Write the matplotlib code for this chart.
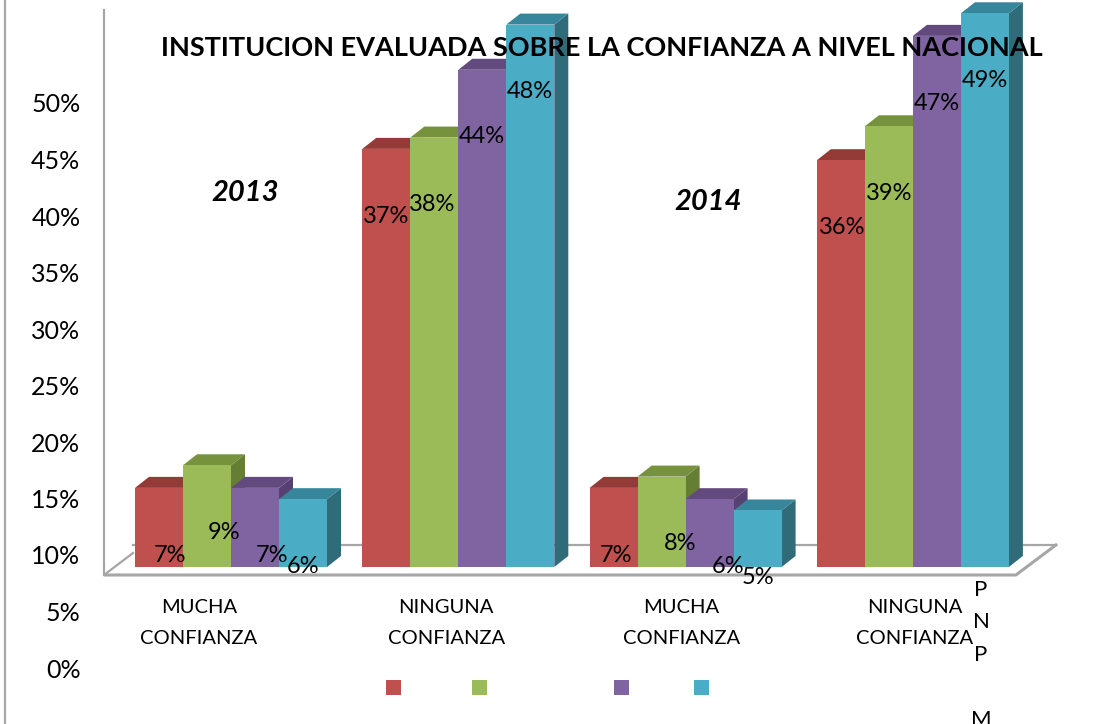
"""
3D-style grouped bar chart: confidence in the evaluated institution, 2013 vs 2014.
Mimics the original spreadsheet chart including its shifted value axis.
"""

import matplotlib
matplotlib.use("Agg")
import matplotlib.pyplot as plt
from matplotlib.lines import Line2D
from matplotlib.patches import Polygon, Rectangle

# ---------------------------------------------------------------------------
# Data
# ---------------------------------------------------------------------------

CATEGORIES = ["MUCHA\nCONFIANZA", "NINGUNA\nCONFIANZA", "MUCHA\nCONFIANZA", "NINGUNA\nCONFIANZA"]
YEARS = ["2013", "2014"]
RED_VALUES = [7, 37, 7, 36]
GREEN_VALUES = [9, 38, 8, 39]
PURPLE_VALUES = [7, 44, 6, 47]
CYAN_VALUES = [6, 48, 5, 49]
Y_TICKS = [0, 5, 10, 15, 20, 25, 30, 35, 40, 45, 50]
TITLE = "INSTITUCION EVALUADA SOBRE LA CONFIANZA A NIVEL NACIONAL"

# ---------------------------------------------------------------------------
# Style
# ---------------------------------------------------------------------------

FACE = ["#C0504D", "#9BBB59", "#8064A2", "#4BACC6"]
TOP = ["#943a37", "#76923C", "#624a7e", "#37869b"]
SIDE = ["#86373a", "#667d34", "#574172", "#306b7a"]
GRAY = "#a6a6a6"
FONT = ["Lato", "DejaVu Sans"]

plt.rcParams["font.family"] = FONT

W, H, DPI = 1104, 724, 100
PX_PER_UNIT = 11.3          # pixels per percentage point on the value axis
ZERO_PX = 668               # pixel row of the "0%" tick
BASE = 8.94                 # bars stand on the floor, well above 0%
BAR_W = 48
GROUP_X0 = 135
GROUP_STEP = 227.3
DEPTH_X = 14
DEPTH_Y = 11 / PX_PER_UNIT
LABEL_LIFT = 3.0
LABEL_NUDGE = [[11, 17, 17, 0], [0, -2, 0, 0], [2, 19, 18, 0], [1, 0, 0, 0]]
CAT_SKEW = [-32, -12, -4, 2]


def px_y(p):
    return (ZERO_PX - p) / PX_PER_UNIT


fig = plt.figure(figsize=(W / DPI, H / DPI), dpi=DPI)
ax = fig.add_axes([104 / W, 0, 1 - 104 / W, 1])
ax.set_xlim(104, W)
ax.set_ylim(px_y(H), px_y(0))
for side in ("top", "right", "bottom"):
    ax.spines[side].set_visible(False)
ax.spines["left"].set_color(GRAY)
ax.spines["left"].set_linewidth(1.6)
ax.spines["left"].set_bounds(px_y(575), px_y(10))
ax.set_xticks([])
ax.set_yticks(Y_TICKS)
ax.set_yticklabels([f"{t}%" for t in Y_TICKS], fontsize=18)
ax.tick_params(axis="y", length=0, pad=17)

# left chart border
fig.add_artist(Line2D([5 / W, 5 / W], [0, 1], color=GRAY, linewidth=1.6))

# floor
front, back = px_y(575), px_y(545)
right_end = GROUP_X0 + 3 * GROUP_STEP + 4 * BAR_W + 7
ax.plot([133, right_end + 40], [back, back], color=GRAY, lw=1.6, zorder=1)
ax.plot([104, 133], [front, px_y(553)], color=GRAY, lw=1.6, zorder=1)
ax.plot([104, right_end, right_end + 40], [front, front, back], color=GRAY, lw=2.2, zorder=1)

# bars
series = [RED_VALUES, GREEN_VALUES, PURPLE_VALUES, CYAN_VALUES]
z = 2
for g in range(len(CATEGORIES)):
    for s, values in enumerate(series):
        v = values[g]
        x0 = GROUP_X0 + g * GROUP_STEP + s * BAR_W
        top = BASE + v
        ax.add_patch(Polygon([(x0 + BAR_W, BASE), (x0 + BAR_W + DEPTH_X, BASE + DEPTH_Y),
                              (x0 + BAR_W + DEPTH_X, top + DEPTH_Y), (x0 + BAR_W, top)],
                             closed=True, facecolor=SIDE[s], edgecolor="none", zorder=z))
        ax.add_patch(Polygon([(x0, top), (x0 + DEPTH_X, top + DEPTH_Y),
                              (x0 + BAR_W + DEPTH_X, top + DEPTH_Y), (x0 + BAR_W, top)],
                             closed=True, facecolor=TOP[s], edgecolor="none", zorder=z))
        ax.bar(x0, v, width=BAR_W, bottom=BASE, align="edge", color=FACE[s],
               edgecolor="none", zorder=z + 0.5)
        z += 1

# data labels (placed on the value axis scale, as in the original)
for g in range(len(CATEGORIES)):
    for s, values in enumerate(series):
        v = values[g]
        xc = GROUP_X0 + g * GROUP_STEP + s * BAR_W + BAR_W / 2 + LABEL_NUDGE[g][s]
        ax.text(xc, v + LABEL_LIFT, f"{v}%", ha="center", va="center",
                fontsize=17, color="black", zorder=100)

# category labels
for g, cat in enumerate(CATEGORIES):
    xc = GROUP_X0 + g * GROUP_STEP + 2 * BAR_W + CAT_SKEW[g]
    ax.text(xc, px_y(623), cat, ha="center", va="center", multialignment="center",
            fontsize=14.5, linespacing=2.0, zorder=100)

# year labels
for i, year in enumerate(YEARS):
    xc = [245, 708][i]
    ax.text(xc, px_y([193, 202][i]), year, ha="center", va="center",
            fontsize=21, fontweight="bold", fontstyle="italic", zorder=100)

ax.text(602, px_y(48), TITLE, ha="center", va="center", fontsize=19.5,
        fontweight="bold", zorder=100)

# legend keys (series names are cut off in the original)
for s, xk in enumerate([393, 479, 621, 701]):
    ax.add_patch(Rectangle((xk - 7.5, px_y(695)), 15, 15 / PX_PER_UNIT,
                           facecolor=FACE[s], edgecolor="none", zorder=100))

# truncated legend text, stacked letters
for ch, yp in zip(["P", "N", "P", "M"], [590, 622, 655, 720]):
    ax.text(981, px_y(yp), ch, ha="center", va="center", fontsize=16, zorder=100)

fig.savefig("out.png", dpi=DPI)
